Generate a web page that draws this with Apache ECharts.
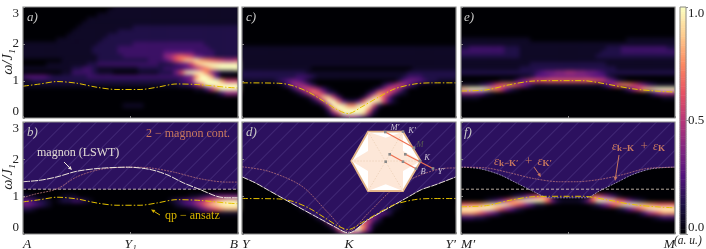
<!DOCTYPE html>
<html><head><meta charset="utf-8">
<script src="https://cdn.jsdelivr.net/npm/echarts@6/dist/echarts.min.js"></script>
<style>html,body{margin:0;padding:0;background:#fff}
#heat,#c{position:absolute;left:0;top:0;width:706px;height:249px}
#heat{filter:blur(2.1px);clip-path:path('M23 7h215v111h-215z M242 7h214v111h-214z M461 7h214v111h-214z M23 122h215v112h-215z M242 122h214v112h-214z M461 122h214v112h-214z')}
</style>
</head><body><div id="heat"></div><div id="c"></div>
<script>
// Intensity cells: one hex digit per cell (0..f = 0..1), top row = omega 3.
const heatA = [
"0000000000 0000000011 1111111111 1111111111 111",
"0000000000 0000000111 1111111111 1111111111 111",
"0000000000 0000011111 1111111111 1111111111 111",
"0000000000 0001111111 1111111111 1111111111 111",
"0000000000 0011111111 1111111111 1111111111 111",
"0000000000 0111111111 1122222222 2222222222 222",
"0000000000 1111111112 2222222222 2222222222 222",
"0000000001 1111111222 2222222222 2222222222 222",
"0000000111 1111112222 2222222222 2222222222 222",
"1111111111 1111122222 2233333333 3333332222 222",
"1111111111 1111222223 3333333333 3333333222 222",
"1111111111 1111222223 3333333344 4444333322 222",
"1111111111 1111122222 3333333367 9a98543322 222",
"0000000011 1111122222 2222233346 9bddecba98 778",
"0000011111 1112233333 3333333222 3458ceffff fff",
"1111111111 2233211111 1112222233 334579bdef fff",
"0000000011 3333211100 0001111222 59effeb631 110",
"3444432222 2223333333 3333333333 3345bffc40 000",
"1122222222 2222222222 2222222222 2346effffc 888",
"1111111111 1111111111 1111111111 12236affff fff",
"0000000000 0000000000 0000000000 00001137cf fff",
"0000000000 0000000000 0000000000 0000000013 666",
"", "",
"0000000000 0000000000 1111000000 0000000000 000",
"", "", ""];
const heatC = [
"","","","","","","","","","",
"1111111111 1111111111 1111111111 1111111111 111",
"1111111111 1111111111 1111111111 1111111111 111",
"1111111111 1111111111 1111111111 1111111111 111",
"1111111111 1111111111 1111111111 1111111111 111",
"1111111111 1111111111 1111111111 1111111111 111",
"1111111111 1111000000 0000000000 0000111111 111",
"2222222222 2221111111 1111111111 1112222222 222",
"2222222222 2333211111 1111111111 1123332222 222",
"1111111234 5431000000 0000000000 0245543221 111",
"0000000013 6764200000 0000000024 6874200000 000",
"0000000000 2589863100 0000001369 9620000000 000",
"0000000000 0137ba7320 0000025bb9 5210000000 000",
"0000000000 000149dd83 00002 7dd94 1000000000 000",
"0000000000 0000138ffa 4224affe83 1000000000 000",
"0000000000 00000028ff ebbeff9200 0000000000 000",
"0000000000 000000 03bf fffffb3000 0000000000 000",
"0000000000 0000000149 ffffd61000 0000000000 000",
"0000000000 0000000001 3664210000 0000000000 000"];
const heatE = [
"","","","","","","",
"",
"1111111111 1111000000 0000000000 0001111111 111",
"1111111111 1111111111 1111111111 1111111111 111",
"2233333332 2211111111 1111111112 2233333333 322",
"3333333332 2211111111 1111111122 2233333333 333",
"2222222222 2211111111 1111111222 2222222222 222",
"1111111111 1111111111 1111111111 1111111111 111",
"1111111111 1111222222 2222222221 1111111111 111",
"1111111111 1122222222 2222222222 2111111111 111",
"2222222222 2222234556 6776655432 2222222222 222",
"0000000000 0011244455 5555554442 1000000000 000",
"0000000011 1357999aaa aaaaaaa986 4210000000 000",
"1111235 8ab b964211111 1111111124 7abb975321 111",
"defffecb84 2100000000 0000000000 001369cdef fff",
"6665421000 0000000000 0000000000 0000000135 777",
"1111000000 0000000000 0000000000 0000000000 111",
"","","","",""];
const heatB = ["","","","","","","","","","","","","","","","","","",
"2110000011 1000000000 0000000000 0001123445 555",
"4432210122 3321000000 0000000001 2344679acd eee",
"5543210000 0000000000 0000000000 123468bdef fff",
"2210000000 0000000000 0000000000 00012468ac ddd",
"0000000000 0000000000 0000000000 0000000001 111",
"","","","",""];
const heatD = ["","","","","","","","","","","","","","","","","","","","",
"0000000000 0110000000 0000000000 1100000000 000",
"0000000000 0012100000 0000000012 1000000000 000",
"0000000000 0000343000 0000002442 0000000000 000",
"0000000000 0000025520 0000256300 0000000000 000",
"0000000000 0000001785 2125983100 0000000000 000",
"0000000000 000000015b caadb51000 0000000000 000",
"0000000000 0000000017 efffa40000 0000000000 000",
"0000000000 0000000001 5775200000 0000000000 000"];
const heatF = ["","","","","","","","","","","","","","","","","","",
"0000000000 123579bb00 000000b975 3100000000 000",
"0000012358 bdefffea52 111125affe da85321000 000",
"aabbcdeefe ca85311000 0000001246 9ceffedcba aaa",
"ffffffec96 4210000000 0000000000 0124 69ceff fff",
"cccb975310 0000000000 0000000000 000001368a ccc",
"3332210000 0000000000 0000000000 0000000012 333",
"","","",""];

// Curves: x is position along the cut (0..1), y is omega / J1.
const qpABx = [0,.08,.158,.25,.344,.437,.545,.622,.715,.823,.947,1];
const qpABy = [.86,.92,.985,.94,.83,.77,.77,.83,.92,.90,.83,.81];
const lswtABx = [0,.08,.158,.25,.359,.49,.59,.669,.746,.824,.901,.947,1];
const lswtABy = [1.40,1.44,1.53,1.68,1.76,1.79,1.73,1.59,1.37,1.19,1.01,.97,.97];
const upperABx = [0,.05,.158,.25,.359,.49,.59,.70,.824,.947,1];
const upperABy = [.97,1.06,1.21,1.53,1.73,1.79,1.77,1.66,1.48,1.39,1.39];
const edgeABx = [0,1];
const edgeABy = [1.19,1.19];
const qpYx = [0,.171,.233,.311,.388,.45,.497,.559,.637,.714,.807,.885,1];
const qpYy = [.95,.94,.88,.70,.43,.21,.12,.30,.56,.79,.92,.95,.95];
const lswtYx = [0,.062,.124,.202,.28,.357,.435,.497,.59,.699,.776,.839,.90,1];
const lswtYy = [1.53,1.37,1.17,.92,.67,.43,.19,.03,.385,.74,.99,1.19,1.31,1.53];
const upperYx = [0,.124,.28,.404,.497,.59,.714,.839,.932,1];
const upperYy = [1.80,1.68,1.28,.56,.07,.56,1.24,1.59,1.75,1.77];
const qpMx = [0,.118,.227,.32,.413,.568,.677,.801,.91,1];
const qpMy = [.73,.76,.90,.99,1.01,1.01,.92,.79,.73,.70];
const edgeMx = [0,.087,.18,.258,.335,.413,.506,.584,.646,.724,.801,.894,1];
const edgeMy = [1.79,1.75,1.59,1.37,1.15,.97,.97,.97,1.15,1.37,1.59,1.75,1.79];
const upperMx = [0,.118,.227,.335,.46,.537,.646,.755,.863,1];
const upperMy = [1.79,1.77,1.64,1.49,1.40,1.40,1.46,1.59,1.75,1.79];
const flatX = [0,1];
const flatY = [1.2,1.2];

const yTicks = ['0','1','2','3'];
const xLabelsB = ['A','Y₁','B'];
const xLabelsD = ['Y','K','Y′'];
const xLabelsF = ['M′','','M'];
const barTicks = ['0.0','0.5','1.0'];
const yTitle = 'ω/J₁';

const COLS = 43, ROWS = 28;
const magma = ['#000004','#1c1044','#51127c','#822681','#b73779','#e75263','#fc8961','#feca8d','#fcfdbf'];
const serif = '"Liberation Serif","DejaVu Serif",serif';
const GREY = '#8a8a8a', YEL = '#e6c200', WHT = '#efe6dc', PNK = '#b5707a', SAL = '#c8785f', FLAT = '#e6d6c8';

const pair = (xs, ys) => xs.map((x, i) => [x, ys[i]]);
function cells(rows) {
  const out = [];
  rows.forEach((r, y) => {
    const s = r.replace(/ /g, '').padEnd(COLS, '0');
    for (let x = 0; x < COLS; x++) {
      const v = parseInt(s[x], 16) / 15;
      if (v > 0) out.push([x, y, v]);
    }
  });
  return out;
}
const colCats = Array.from({length: COLS}, (_, i) => i);
const rowCats = Array.from({length: ROWS}, (_, i) => i);

const L = [23, 242, 461], W = 214;
const panels = [
 {col:0, top:7,   h:111, heat:heatA, solid:true,  x:null,     yl:true, qp:[qpABx,qpABy]},
 {col:0, top:122, h:112, heat:heatB, solid:false, x:xLabelsB, yl:true, qp:[qpABx,qpABy],
  lines:[[upperABx,upperABy,PNK],[lswtABx,lswtABy,WHT],[flatX,flatY,FLAT]], edge:[edgeABx,edgeABy]},
 {col:1, top:7,   h:111, heat:heatC, solid:true,  x:null,     yl:false, qp:[qpYx,qpYy]},
 {col:1, top:122, h:112, heat:heatD, solid:false, x:xLabelsD, yl:false, qp:[qpYx,qpYy],
  lines:[[upperYx,upperYy,PNK],[lswtYx,lswtYy,WHT]], edge:[lswtYx,lswtYy]},
 {col:2, top:7,   h:111, heat:heatE, solid:true,  x:null,     yl:false, qp:[qpMx,qpMy]},
 {col:2, top:122, h:112, heat:heatF, solid:false, x:xLabelsF, yl:false, qp:[qpMx,qpMy],
  lines:[[edgeMx,edgeMy,'#a9a0c0'],[upperMx,upperMy,PNK],[flatX,flatY,FLAT]], edge:[edgeMx,edgeMy]}
];

// ---- blurred intensity layer ----
const hGrid = [], hX = [], hY = [], hSeries = [];
panels.forEach((p, i) => {
  const w = W + (p.col===0?1:0);
  hGrid.push({left:L[p.col]-2, top:p.top-2, width:w+4, height:p.h+4, outerBoundsMode:'none'});
  hX.push({type:'category', gridIndex:i, data:colCats, show:false});
  hY.push({type:'category', gridIndex:i, data:rowCats, inverse:true, show:false});
  hSeries.push({type:'heatmap', xAxisIndex:i, yAxisIndex:i, progressive:0, silent:true, animation:false, data:cells(p.heat)});
});
const heatChart = echarts.init(document.getElementById('heat'));
heatChart.setOption({animation:false, backgroundColor:'#000004', grid:hGrid, xAxis:hX, yAxis:hY, series:hSeries,
  visualMap:{show:false, type:'continuous', min:0, max:1, inRange:{color:magma}}});

// ---- axes, curves, continuum and text layer ----
const grid = [], xAxis = [], yAxis = [], series = [];
const tick = {show:true, inside:true, length:2, lineStyle:{color:GREY, width:1}};
const hatchDecal = {symbol:'rect', symbolSize:1, color:'rgba(125,105,180,.26)', dashArrayX:[1,0], dashArrayY:[1,10], rotation:-Math.PI/4};
panels.forEach((p, i) => {
  grid.push({left:L[p.col], top:p.top, width:W + (p.col===0?1:0), height:p.h, show:true, outerBoundsMode:'none',
    backgroundColor:'transparent', borderColor:GREY, borderWidth:1.2, z:10});
  xAxis.push({type:'value', gridIndex:i, min:0, max:1, interval:.5, z:11,
    axisLine:{show:false}, splitLine:{show:false}, axisTick:tick,
    axisLabel:{show:!!p.x, margin:3, fontFamily:serif, fontStyle:'italic', fontSize:13.5, color:'#222',
      alignMinLabel:'left', alignMaxLabel:'right', hideOverlap:false,
      formatter:v => p.x ? p.x[Math.round(v*2)] : ''}});
  yAxis.push({type:'value', gridIndex:i, min:0, max:3, interval:1, z:11,
    axisLine:{show:false}, splitLine:{show:false}, axisTick:tick,
    axisLabel:{show:p.yl, margin:4, fontFamily:serif, fontSize:13, color:'#222',
      verticalAlignMinLabel:'bottom', verticalAlignMaxLabel:'top', formatter:v => yTicks[v]}});
  const base = {type:'line', xAxisIndex:i, yAxisIndex:i, showSymbol:false, symbol:'none', silent:true, animation:false};
  if (!p.solid) {
    series.push({...base, z:1, data:pair(p.edge[0],p.edge[1]), smooth:.3,
      lineStyle:{width:0, decal:hatchDecal}, itemStyle:{decal:hatchDecal},
      areaStyle:{color:'#2c115f', opacity:1, origin:'end'}});
  }
  (p.lines||[]).forEach(l => {
    const white = l[2] === WHT, flat = l[2] === FLAT;
    series.push({...base, z:3, data:pair(l[0],l[1]), smooth:l[0].length>2?.3:false,
      lineStyle:{color:l[2], width:white?1:.8, type:white?[7,1]:flat?[3,2]:[2,1]}});
  });
  series.push({...base, z:4, data:pair(p.qp[0],p.qp[1]), smooth:.3,
    lineStyle:{color:YEL, width:1, type:[6,2,1.5,2]}});
});

// colour bar
const barLevels = Array.from({length:100}, (_, i) => i);
grid.push({left:680, top:7, width:6, height:227, show:true, outerBoundsMode:'none', backgroundColor:'transparent', borderColor:GREY, borderWidth:1, z:10});
xAxis.push({type:'category', gridIndex:6, data:['v'], show:false});
yAxis.push({type:'category', gridIndex:6, data:barLevels, show:false});
yAxis.push({type:'value', gridIndex:6, min:0, max:1, interval:.5, position:'right', z:11,
  axisLine:{show:false}, splitLine:{show:false}, axisTick:{show:true, length:2, lineStyle:{color:GREY}},
  axisLabel:{margin:2, fontFamily:serif, fontSize:13, color:'#222',
    verticalAlignMinLabel:'bottom', verticalAlignMaxLabel:'top', formatter:v => barTicks[Math.round(v*2)]}});
const barSeriesIndex = series.length;
series.push({type:'heatmap', xAxisIndex:xAxis.length-1, yAxisIndex:yAxis.length-2, z:2, progressive:0, silent:true, animation:false,
  data:barLevels.map(l => [0, l, l/99])});
series.push({type:'line', xAxisIndex:xAxis.length-1, yAxisIndex:yAxis.length-1, data:[], silent:true});

// annotations
const txt = (x,y,t,color,size,extra={}) => ({type:'text', x, y, z:30, silent:true,
  style:{text:t, fill:color, fontFamily:serif, fontSize:size, verticalAlign:'middle', align:'left', ...extra}});
const yName = y => ({type:'text', x:8, y, rotation:Math.PI/2, z:30, silent:true,
  style:{text:yTitle, fill:'#222', fontFamily:serif, fontStyle:'italic', fontSize:14.5, align:'center', verticalAlign:'middle'}});
function arrow(x1,y1,x2,y2,color){
  const a = Math.atan2(y2-y1,x2-x1), h = 4, w = 1.8;
  const bx = x2-h*Math.cos(a), by = y2-h*Math.sin(a);
  return [{type:'line', z:30, silent:true, shape:{x1,y1,x2:bx,y2:by}, style:{stroke:color, lineWidth:1}},
    {type:'polygon', z:30, silent:true, shape:{points:[[x2,y2],[bx-w*Math.sin(a),by+w*Math.cos(a)],[bx+w*Math.sin(a),by-w*Math.cos(a)]]}, style:{fill:color}}];
}
const it = {fontStyle:'italic'};
const epsRich = {e:{fontFamily:serif, fontStyle:'italic', fontSize:12.5, fill:SAL},
  s:{fontFamily:serif, fontWeight:'bold', fontSize:9, fill:SAL, padding:[4,1,0,0]},
  p:{fontFamily:serif, fontSize:13, fill:SAL, padding:[0,2,0,2]}};
const hexagon = [[368,131.7],[403,131.7],[420.7,161],[403,191],[368,191],[351.3,161]];
const star = [[368,131.7],[385.7,137.7],[403,131.7],[403,151],[420.7,161],[403,171],[403,191],[385.7,184.3],[368,191],[368,171],[351.3,161],[368,151]];
const RED = '#ee6f50', FAINT = '#e8c9ad';
const seg = (x1,y1,x2,y2,c,lw,dash) => ({type:'line', z:32, silent:true, shape:{x1,y1,x2,y2}, style:{stroke:c, lineWidth:lw, lineDash:dash||null}});
const dot = (x,y) => ({type:'rect', z:33, silent:true, shape:{x:x-1.3,y:y-1.3,width:2.6,height:2.6}, style:{fill:'#8a8a8a'}});
const lab = (x,y,t,c) => txt(x,y,t,c||'#666',8.5,{fontStyle:'italic', align:'center'});
const graphic = [
  yName(62), yName(177),
  txt(27,18,'a)','#c8c8c8',13,it), txt(27,133,'b)','#c8c8c8',13,it),
  txt(246,18,'c)','#c8c8c8',13,it), txt(246,133,'d)','#c8c8c8',13,it),
  txt(464,18,'e)','#c8c8c8',13,it), txt(464,133,'f)','#c8c8c8',13,it),
  txt(37,152.5,'magnon (LSWT)','#e4ddd6',12),
  txt(146,134,'2 − magnon cont.',SAL,12),
  txt(165,216,'qp − ansatz','#d8b400',12),
  ...arrow(64,162,72,170,'#efe6dc'),
  ...arrow(160,215,151,209.5,'#d8b400'),
  {type:'text', x:494, y:162, z:30, silent:true, style:{text:'{e|ε}{s|k−K′} {p|+} {e|ε}{s|K′}', rich:epsRich, verticalAlign:'middle'}},
  {type:'text', x:612, y:147, z:30, silent:true, style:{text:'{e|ε}{s|k−K} {p|+} {e|ε}{s|K}', rich:epsRich, verticalAlign:'middle'}},
  ...arrow(534,167,541,177,SAL),
  ...arrow(619,155,615,181,SAL),
  txt(674,241,'(a. u.)','#222',11.5,it),
  // Brillouin-zone inset
  {type:'polygon', z:31, silent:true, shape:{points:hexagon}, style:{fill:'#ffffff', stroke:'#e2b488', lineWidth:1.8}},
  {type:'polygon', z:31, silent:true, shape:{points:star}, style:{fill:'#fde7d8'}},
  seg(351.3,161,420.7,161,FAINT,.6,[1.5,1.5]), seg(368,131.7,403,191,FAINT,.6,[1.5,1.5]), seg(403,131.7,368,191,FAINT,.6,[1.5,1.5]),
  seg(385.3,132,414,147.7,RED,1.1), seg(389.7,154.3,416,168.7,RED,1.1), seg(405.3,154.3,433,168.5,RED,1.1),
  dot(385.3,132), dot(403,131.7), dot(414,147.7), dot(389.7,154.3), dot(405.3,154.3), dot(403,161.7), dot(385.7,161.7), dot(419.7,161), dot(416,168.7), dot(433,168.5),
  lab(395,127.5,'M′','#cfc6d8'), lab(412,130.5,'K′','#cfc6d8'), lab(420,145,'M','#555'), lab(404,150,'Y'), lab(427,158,'K','#cfc6d8'),
  lab(384,152,'A'), lab(381,165,'Γ*'), lab(399,170,'Y₁'), lab(423,172,'B','#cfc6d8'), lab(441,172,'Y′','#cfc6d8')
];

const chart = echarts.init(document.getElementById('c'), null, {renderer:'canvas'});
chart.setOption({
  animation:false, backgroundColor:'transparent', grid, xAxis, yAxis, series, graphic,
  visualMap:{show:false, type:'continuous', min:0, max:1, seriesIndex:[barSeriesIndex], inRange:{color:magma}}
});
</script></body></html>
